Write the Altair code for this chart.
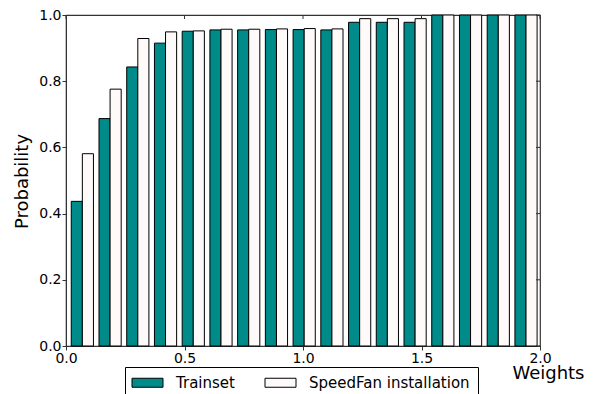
import altair as alt
import pandas as pd

# ---- data ----
bin_centers = [0.069, 0.186, 0.303, 0.420, 0.537, 0.654, 0.771, 0.888, 1.005,
               1.122, 1.239, 1.356, 1.473, 1.590, 1.707, 1.824, 1.941]
trainset = [0.437, 0.687, 0.843, 0.915, 0.951, 0.955, 0.955, 0.956, 0.956,
            0.955, 0.978, 0.978, 0.978, 1.0, 1.0, 1.0, 1.0]
speedfan = [0.581, 0.776, 0.929, 0.949, 0.952, 0.957, 0.957, 0.958, 0.959,
            0.958, 0.989, 0.989, 0.989, 1.0, 1.0, 1.0, 1.0]
series_names = ["Trainset", "SpeedFan installation"]
series_colors = ["#008b8b", "#fffafa"]
x_ticks = [0.0, 0.5, 1.0, 1.5, 2.0]
y_ticks = [0.0, 0.2, 0.4, 0.6, 0.8, 1.0]

bar_w = 0.0468
FONT = "DejaVu Sans"
FRAME = "#333333"

rows = []
for c, t, s in zip(bin_centers, trainset, speedfan):
    rows.append({"series": series_names[0], "x0": c - bar_w, "x1": c, "p": t})
    rows.append({"series": series_names[1], "x0": c, "x1": c + bar_w, "p": s})
df = pd.DataFrame(rows)

xscale = alt.Scale(domain=[0, 2], nice=False, zero=False, padding=0)
yscale = alt.Scale(domain=[0, 1], nice=False, padding=0)

xaxis = alt.Axis(values=x_ticks, format=".1f", title="Weights", grid=False,
                 labelFont=FONT, labelFontSize=14, labelColor="black",
                 labelFlush=False, labelOverlap=False, labelPadding=1,
                 tickSize=4, tickColor=FRAME, domainColor=FRAME,
                 titleFont=FONT, titleFontSize=18, titleFontWeight="normal",
                 titleColor="black", titleX=518, titleY=32, titleAlign="right",
                 titleAnchor="end", titleBaseline="alphabetic")
yaxis = alt.Axis(values=y_ticks, format=".1f", title="Probability", grid=False,
                 labelFont=FONT, labelFontSize=14, labelColor="black",
                 labelFlush=False, labelOverlap=False, labelPadding=1,
                 tickSize=4, tickColor=FRAME, domainColor=FRAME,
                 titleFont=FONT, titleFontSize=18, titleFontWeight="normal",
                 titleColor="black", titleX=-39, titleY=166, titleAngle=270,
                 titleAlign="center", titleBaseline="alphabetic")

legend = alt.Legend(title=None, orient="none", legendX=59, legendY=352,
                    direction="horizontal", strokeColor="black", fillColor="white",
                    padding=8, cornerRadius=0,
                    symbolType="M-3.1,-0.9H3.1V0.9H-3.1Z", symbolSize=100,
                    symbolOffset=7,
                    symbolStrokeColor="black", symbolStrokeWidth=1, symbolOpacity=1,
                    labelFont=FONT, labelFontSize=15, labelColor="black",
                    labelLimit=0, labelOffset=21, columnPadding=28)

bars = alt.Chart(df).mark_bar(stroke="black", strokeWidth=1, opacity=1).encode(
    x=alt.X("x0:Q", scale=xscale, axis=xaxis),
    x2="x1:Q",
    y=alt.Y("p:Q", scale=yscale, axis=yaxis),
    y2=alt.datum(0),
    color=alt.Color("series:N", scale=alt.Scale(domain=series_names, range=series_colors),
                    legend=legend),
)

top_ticks = alt.Chart(pd.DataFrame({"x0": x_ticks})).mark_rule(color=FRAME, strokeWidth=1).encode(
    x=alt.X("x0:Q", scale=xscale, axis=xaxis),
    y=alt.value(0), y2=alt.value(4),
)
right_ticks = alt.Chart(pd.DataFrame({"p": y_ticks})).mark_rule(color=FRAME, strokeWidth=1).encode(
    y=alt.Y("p:Q", scale=yscale, axis=yaxis),
    x=alt.value(474), x2=alt.value(470),
)

chart = alt.layer(bars, top_ticks, right_ticks).properties(
    width=474, height=331,
    autosize=alt.AutoSizeParams(type="none"),
    padding={"left": 58, "top": 7, "right": 61, "bottom": 48},
).configure_view(stroke=FRAME, strokeWidth=1.2)

chart.save("out.html", embed_options={"renderer": "svg", "actions": False})
